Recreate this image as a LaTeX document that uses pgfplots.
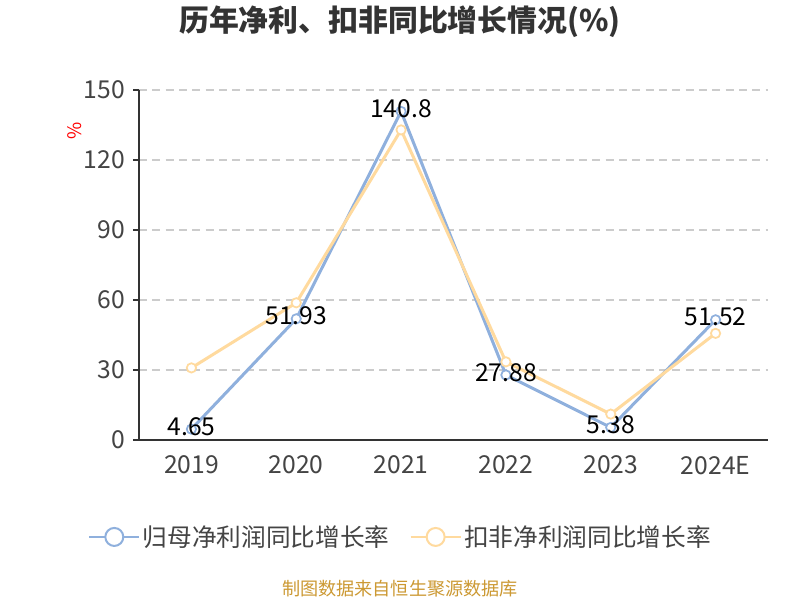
\documentclass[border=0pt]{standalone}
\usepackage{fontspec}
\setmainfont{Noto Sans CJK SC}
\usepackage{pgfplots}
\pgfplotsset{compat=1.18}
\definecolor{cblue}{RGB}{143,176,221}
\definecolor{corange}{RGB}{255,218,158}
\definecolor{ctext}{RGB}{68,68,68}
\definecolor{cgrid}{RGB}{204,204,204}
\definecolor{csrc}{RGB}{204,153,51}
\definecolor{caxis}{RGB}{51,51,51}
\begin{document}
\begin{tikzpicture}
\path[use as bounding box, fill=white] (0,0) rectangle (600pt,450pt);
\begin{axis}[
  at={(104.25pt,120pt)}, anchor=south west,
  scale only axis, width=471.75pt, height=262.5pt,
  xmin=-0.5, xmax=5.5, ymin=0, ymax=150,
  axis x line*=bottom, axis y line*=left,
  axis line style={caxis, line width=1.2pt, -},
  xtick={0,1,2,3,4,5},
  xticklabels={2019,2020,2021,2022,2023,2024E},
  minor xtick={-0.5,0.5,1.5,2.5,3.5,4.5,5.5},
  xtick style={draw=none},
  minor x tick style={caxis, line width=1.2pt},
  minor tick length=4.5pt,
  ytick={0,30,60,90,120,150},
  ytick style={caxis, line width=1.2pt},
  major tick length=4.5pt,
  tick align=outside,
  ymajorgrids, grid style={cgrid, dashed, line width=0.9pt, dash pattern=on 6pt off 4pt},
  ticklabel style={font=\fontsize{18.5}{22}\selectfont, text=ctext},
  /pgf/number format/assume math mode=true,
  xticklabel style={yshift=-4pt},
  yticklabel style={xshift=-2.5pt},
  clip=false,
  legend columns=2,
  legend style={at={(0.4165,-0.277)}, anchor=center, draw=none, fill=none,
    font=\fontsize{18.5}{22}\selectfont, text=ctext,
    nodes={inner xsep=2pt},
    /tikz/every even column/.append style={column sep=13pt}},
  legend cell align=left,
]
\addplot[cblue, line width=2.25pt, mark=*, mark size=3.5pt,
  mark options={fill=white, draw=cblue, line width=1.3pt},
  nodes near coords, point meta=explicit symbolic,
  every node near coord/.style={anchor=center, yshift=2pt, text=black, font=\fontsize{18.5}{22}\selectfont},
  legend image code/.code={\draw[cblue, line width=1.5pt] (0pt,0pt) -- (37.5pt,0pt); \draw[cblue, fill=white, line width=1.5pt] (18.75pt,0pt) circle (6.75pt);}
] table[meta=lab] {
x y lab
0 4.65 4.65
1 51.93 51.93
2 140.8 140.8
3 27.88 27.88
4 5.38 5.38
5 51.52 51.52
};
\addlegendentry{归母净利润同比增长率}
\addplot[corange, line width=2.25pt, mark=*, mark size=3.5pt,
  mark options={fill=white, draw=corange, line width=1.3pt},
  legend image code/.code={\draw[corange, line width=1.5pt] (0pt,0pt) -- (37.5pt,0pt); \draw[corange, fill=white, line width=1.5pt] (18.75pt,0pt) circle (6.75pt);}
] coordinates {
(0,30.9) (1,58.8) (2,132.9) (3,33.5) (4,11.1) (5,45.7)
};
\addlegendentry{扣非净利润同比增长率}
\end{axis}
\node[font=\bfseries\fontsize{22.4}{26}\selectfont, text=caxis] at (300pt,433.5pt) {历年净利、扣非同比增长情况(\%)};
\node[font=\fontsize{14}{16}\selectfont, text=red, rotate=90] at (56.25pt,351.75pt) {\%};
\node[font=\fontsize{13.6}{16}\selectfont, text=csrc] at (300pt,8.25pt) {制图数据来自恒生聚源数据库};
\end{tikzpicture}
\end{document}
